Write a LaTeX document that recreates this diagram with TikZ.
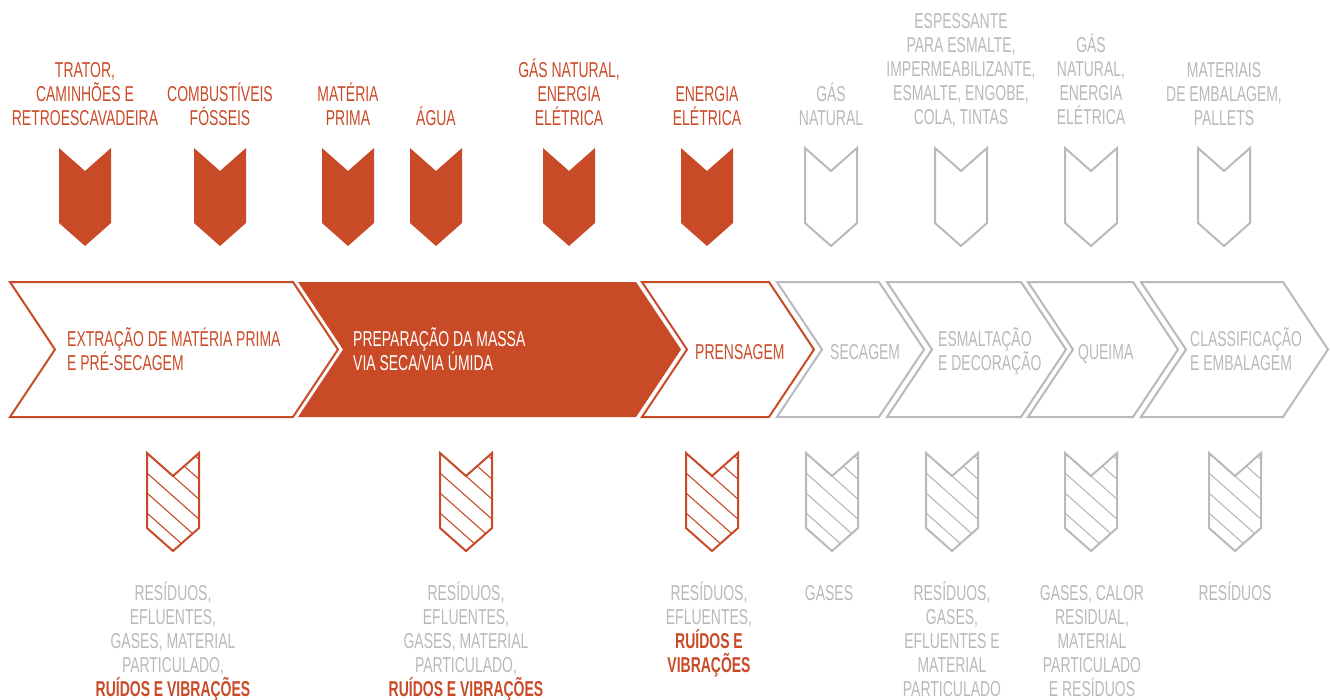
\documentclass[tikz,border=0pt]{standalone}
\usepackage{fontspec}
\setmainfont[FakeStretch=0.65]{Liberation Sans}
\usetikzlibrary{calc}
\definecolor{telha}{RGB}{201,74,39}
\definecolor{cinza}{RGB}{184,185,189}
\tikzset{
	toplbl/.style={align=center, anchor=base, inner sep=0pt, font=\fontsize{21.5}{24}\selectfont},
	steplbl/.style={align=left, anchor=base west, inner sep=0pt, font=\fontsize{21.5}{24}\selectfont}
}
\def\chevron[#1](#2,#3){\draw[#1] (#2-26,#3) -- (#2,#3+23) -- (#2+26,#3) -- (#2+26,#3+75) -- (#2,#3+98) -- (#2-26,#3+75) -- cycle;}
\def\hatchchevron[#1](#2,#3){\begin{scope}
	\clip (#2-26,#3) -- (#2,#3+23) -- (#2+26,#3) -- (#2+26,#3+75) -- (#2,#3+98) -- (#2-26,#3+75) -- cycle;
	\foreach \k in {-2,...,3} \draw[#1, line width=1.1] (#2-30,{#3+(\k)*20-3.5}) -- ++(62,55);
	\end{scope}
	\chevron[draw=#1, line width=2](#2,#3)}
\def\steparrow[#1](#2:#3){\draw[#1] (#2,282) -- (#3,282) -- (#3+45,349.5) -- (#3,417) -- (#2,417) -- (#2+45,349.5) -- cycle;}

\begin{document}
\begin{tikzpicture}[x=1pt,y=-1pt]
			%%%%% START %%%%%
			\useasboundingbox (0,0) rectangle (1330,699);
			
			% entradas
			\node[toplbl, text=telha] (trator) at (85,125) {TRATOR,\\CAMINHÕES E\\RETROESCAVADEIRA};
			\node[toplbl, text=telha] (combustiveis) at (220,125) {COMBUSTÍVEIS\\FÓSSEIS};
			\node[toplbl, text=telha] (materia) at (348,125) {MATÉRIA\\PRIMA};
			\node[toplbl, text=telha] (agua) at (436,125) {ÁGUA};
			\node[toplbl, text=telha] (gasenergia) at (569,125) {GÁS NATURAL,\\ENERGIA\\ELÉTRICA};
			\node[toplbl, text=telha] (energia) at (707,125) {ENERGIA\\ELÉTRICA};
			\node[toplbl, text=cinza] (gas) at (831,125) {GÁS\\NATURAL};
			\node[toplbl, text=cinza] (espessante) at (961,124) {ESPESSANTE\\PARA ESMALTE,\\IMPERMEABILIZANTE,\\ESMALTE, ENGOBE,\\COLA, TINTAS};
			\node[toplbl, text=cinza] (gasnatural) at (1091,124) {GÁS\\NATURAL,\\ENERGIA\\ELÉTRICA};
			\node[toplbl, text=cinza] (embalagem) at (1224,125) {MATERIAIS\\DE EMBALAGEM,\\PALLETS};
			
			\foreach \x in {85,220,348,436,569,707} {\chevron[fill=telha, draw=none](\x,148)}
			\foreach \x in {831,961,1091,1224} {\chevron[draw=cinza, line width=2](\x,148)}
			
			% etapas
			\steparrow[draw=telha, line width=2](10:293)
			\steparrow[fill=telha, draw=none](298:636)
			\steparrow[draw=telha, line width=2](642:769)
			\steparrow[draw=cinza, line width=2](777:879)
			\steparrow[draw=cinza, line width=2](887:1021)
			\steparrow[draw=cinza, line width=2](1028:1133)
			\steparrow[draw=cinza, line width=2](1141:1283)
			
			\node[steplbl, text=telha] (extracao) at (67,370) {EXTRAÇÃO DE MATÉRIA PRIMA\\E PRÉ-SECAGEM};
			\node[steplbl, text=white] (preparacao) at (353,370) {PREPARAÇÃO DA MASSA\\VIA SECA/VIA ÚMIDA};
			\node[steplbl, text=telha] (prensagem) at (695,359) {PRENSAGEM};
			\node[steplbl, text=cinza] (secagem) at (830,359) {SECAGEM};
			\node[steplbl, text=cinza] (esmaltacao) at (938,370) {ESMALTAÇÃO\\E DECORAÇÃO};
			\node[steplbl, text=cinza] (queima) at (1078,359) {QUEIMA};
			\node[steplbl, text=cinza] (classificacao) at (1190,370) {CLASSIFICAÇÃO\\E EMBALAGEM};
			
			% saidas
			\foreach \x in {173,466,712} {\hatchchevron[telha](\x,453)}
			\foreach \x in {832,952,1091,1235} {\hatchchevron[cinza](\x,453)}
			
			\node[toplbl, text=cinza] (saida1) at (173,696) {RESÍDUOS,\\EFLUENTES,\\GASES, MATERIAL\\PARTICULADO,\\\textcolor{telha}{\bfseries RUÍDOS E VIBRAÇÕES}};
			\node[toplbl, text=cinza] (saida2) at (466,696) {RESÍDUOS,\\EFLUENTES,\\GASES, MATERIAL\\PARTICULADO,\\\textcolor{telha}{\bfseries RUÍDOS E VIBRAÇÕES}};
			\node[toplbl, text=cinza] (saida3) at (709,672) {RESÍDUOS,\\EFLUENTES,\\\textcolor{telha}{\bfseries RUÍDOS E}\\\textcolor{telha}{\bfseries VIBRAÇÕES}};
			\node[toplbl, text=cinza] (saida4) at (829,600) {GASES};
			\node[toplbl, text=cinza] (saida5) at (952,696) {RESÍDUOS,\\GASES,\\EFLUENTES E\\MATERIAL\\PARTICULADO};
			\node[toplbl, text=cinza] (saida6) at (1092,696) {GASES, CALOR\\RESIDUAL,\\MATERIAL\\PARTICULADO\\E RESÍDUOS};
			\node[toplbl, text=cinza] (saida7) at (1235,600) {RESÍDUOS};
			
			%%%%% END %%%%%
\end{tikzpicture}
\end{document}
